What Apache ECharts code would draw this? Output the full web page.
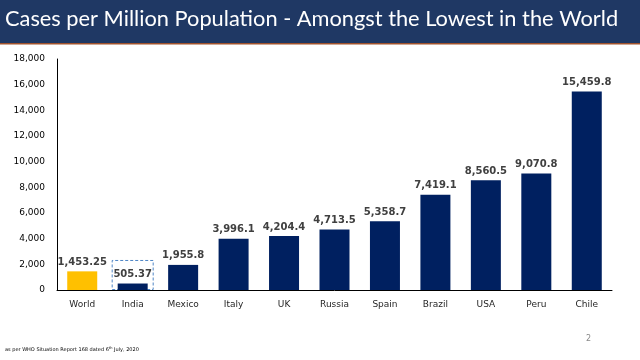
<!DOCTYPE html>
<html><head><meta charset="utf-8">
<script src="https://cdn.jsdelivr.net/npm/echarts@6/dist/echarts.min.js"></script>
<style>html,body{margin:0;padding:0;background:#fff}#c{width:640px;height:360px}</style>
</head><body><div id="c"></div>
<script>
const categories = ['World','India','Mexico','Italy','UK','Russia','Spain','Brazil','USA','Peru','Chile'];
const values = [1453.25, 505.37, 1955.8, 3996.1, 4204.4, 4713.5, 5358.7, 7419.1, 8560.5, 9070.8, 15459.8];
const labelsText = ['1,453.25','505.37','1,955.8','3,996.1','4,204.4','4,713.5','5,358.7','7,419.1','8,560.5','9,070.8','15,459.8'];
const highlightBox = [null, 2340, null, null, null, null, null, null, null, null, null];
const yTicks = {min: 0, max: 18000, interval: 2000};

const chart = echarts.init(document.getElementById('c'));
chart.setOption({
  animation: false,
  grid: {left: 57, right: 28, top: 59, bottom: 70},
  graphic: [
    {type: 'rect', left: 0, top: 0, shape: {width: 640, height: 43}, style: {fill: '#1F3864'}, z: -1},
    {type: 'rect', left: 0, top: 43, shape: {width: 640, height: 1.5}, style: {fill: '#A0522D'}, z: -1},
    {type: 'text', left: 5, top: 8, style: {text: 'Cases per Million Population - Amongst the Lowest in the World', fill: '#ffffff', font: '21.8px Lato'}},
    {type: 'text', left: 586, top: 335, style: {text: '2', fill: '#888888', font: '8px "DejaVu Sans"'}},
    {type: 'text', left: 5, top: 346, style: {
      text: '{a|as per WHO Situation Report 168 dated 6}{s|th}{a| July, 2020}',
      rich: {a: {fontSize: 5, fontFamily: 'DejaVu Sans', fill: '#000'}, s: {fontSize: 3.5, fontFamily: 'DejaVu Sans', verticalAlign: 'top', padding: [0,0,3,0]}}
    }}
  ],
  xAxis: [
    {type: 'category', data: categories, axisLine: {lineStyle: {color: '#000', width: 1}}, axisTick: {show: false},
     axisLabel: {color: '#262626', fontSize: 9, fontFamily: 'DejaVu Sans', margin: 10}},
    {type: 'category', data: categories, show: false, position: 'bottom'}
  ],
  yAxis: {type: 'value', min: yTicks.min, max: yTicks.max, interval: yTicks.interval,
    axisLine: {show: true, lineStyle: {color: '#000', width: 1}}, axisTick: {show: false}, splitLine: {show: false},
    axisLabel: {color: '#000', fontSize: 9, fontFamily: 'DejaVu Sans', margin: 12,
      formatter: v => v.toLocaleString('en-US')}},
  series: [
    {type: 'bar', xAxisIndex: 1, data: highlightBox, barWidth: 42, silent: true, z: 1,
     itemStyle: {color: 'rgba(0,0,0,0)', borderColor: '#4F86C6', borderWidth: 1, borderType: [3, 2]}},
    {type: 'bar', xAxisIndex: 0, barWidth: 30, z: 2,
     data: values.map((v, i) => ({value: v, itemStyle: {color: i === 0 ? '#FFC000' : '#002060'}})),
     label: {show: true, position: 'top', distance: 4, color: '#404040', fontSize: 10, fontWeight: 'bold', fontFamily: 'DejaVu Sans',
       formatter: p => labelsText[p.dataIndex]}}
  ]
});
</script></body></html>
